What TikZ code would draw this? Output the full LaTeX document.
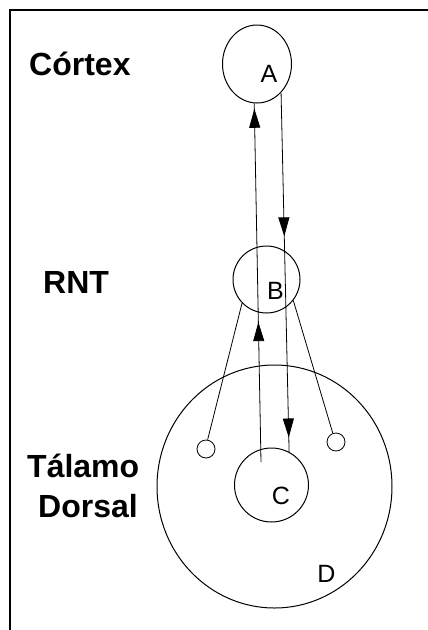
\documentclass[tikz,border=0pt]{standalone}
\usepackage{fontspec}
\setmainfont{Liberation Sans}
\usetikzlibrary{arrows.meta,decorations.markings,shapes.geometric}
\tikzset{
  region/.style={draw, line width=1pt, inner sep=0pt},
  conn/.style={draw, line width=0.8pt},
  headlbl/.style={inner sep=0pt, anchor=base west, font=\fontsize{32}{38}\selectfont\bfseries},
  letter/.style={inner sep=0pt, font=\fontsize{25}{29}\selectfont},
  tipmark/.style={postaction={decorate, decoration={markings,
      mark=at position #1 with {\arrow{Triangle[length=19pt,width=11pt]}}}}}
}
\begin{document}
\begin{tikzpicture}[x=1pt,y=-1pt]
\useasboundingbox (0,0) rectangle (428,630);
% frame
\coordinate (f1) at (10,630);
\coordinate (f2) at (10,10);
\coordinate (f3) at (428,10);
\draw[line width=1.3pt] (f1) -- (f2) -- (f3);
% regions
\node[region, ellipse, minimum width=69pt, minimum height=78pt] (A) at (257,64) {};
\node[region, circle, minimum size=67pt] (B) at (266.5,279.5) {};
\node[region, circle, minimum size=74pt] (C) at (271.5,485) {};
\node[region, ellipse, minimum width=235pt, minimum height=243pt] (D) at (274.5,486.5) {};
\node[region, circle, minimum size=18pt, line width=0.8pt] (s1) at (206,449) {};
\node[region, circle, minimum size=18pt, line width=0.8pt] (s2) at (336,442) {};
% letters
\node[letter] (lA) at (269,74) {A};
\node[letter] (lB) at (275.5,291) {B};
\node[letter] (lC) at (281,496) {C};
\node[letter] (lD) at (326.5,574) {D};
% side labels
\node[headlbl] (cortex) at (29,75) {Córtex};
\node[headlbl] (rnt) at (43,293) {RNT};
\node[headlbl] (talamo) at (27,477) {Tálamo};
\node[headlbl] (dorsal) at (38,517) {Dorsal};
% connectors
\coordinate (c1) at (261,462);
\draw[conn, tipmark=0.39, tipmark=0.985] (c1) -- (A.266);
\draw[conn, tipmark=0.40, tipmark=0.96] (A.310) -- (C.62);
\draw[conn] (B.224) -- (s1.80);
\draw[conn] (B.322) -- (s2.110);
\end{tikzpicture}
\end{document}
